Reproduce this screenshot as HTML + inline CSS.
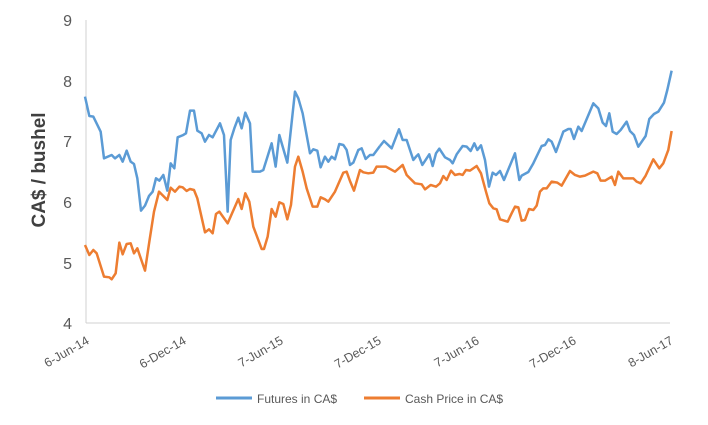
<!DOCTYPE html>
<html><head><style>body{margin:0;background:#fff}svg{display:block}</style></head><body>
<svg width="708" height="425" xmlns="http://www.w3.org/2000/svg" font-family="Liberation Sans, sans-serif">
<rect width="708" height="425" fill="#fff"/>
<line x1="86" y1="20" x2="86" y2="323" stroke="#d0d0d0"/>
<line x1="86" y1="323" x2="670" y2="323" stroke="#d0d0d0"/>
<g font-size="16" fill="#595959" text-anchor="end">
<text x="72" y="26">9</text><text x="72" y="87">8</text><text x="72" y="147">7</text>
<text x="72" y="208">6</text><text x="72" y="269">5</text><text x="72" y="329">4</text>
</g>
<text transform="translate(45,170) rotate(-90)" text-anchor="middle" font-size="19" font-weight="bold" fill="#404040">CA$ / bushel</text>
<g font-size="12.5" fill="#595959" text-anchor="end">
<text transform="translate(90,343) rotate(-30)">6-Jun-14</text>
<text transform="translate(187,343) rotate(-30)">6-Dec-14</text>
<text transform="translate(284,343) rotate(-30)">7-Jun-15</text>
<text transform="translate(382,343) rotate(-30)">7-Dec-15</text>
<text transform="translate(480,343) rotate(-30)">7-Jun-16</text>
<text transform="translate(577,343) rotate(-30)">7-Dec-16</text>
<text transform="translate(674,343) rotate(-30)">8-Jun-17</text>
</g>
<g fill="none" stroke-width="2.5" stroke-linejoin="round">
<g transform="translate(80,60) scale(0.3333)">
<polyline vector-effect="non-scaling-stroke" stroke="#5b9bd5" points="15,110 28,168 40,170 62,215 72,295 95,285 105,295 118,285 128,305 140,272 152,305 162,312 172,355 183,452 195,437 207,408 218,395 228,355 238,362 250,345 262,392 272,310 283,325 293,232 310,225 318,220 330,152 342,152 352,212 365,220 375,245 387,225 398,232 420,190 432,225 443,455 452,240 463,205 475,173 485,205 496,158 510,190 518,335 540,335 550,330 575,250 587,320 598,225 622,308 645,95 655,115 668,160 690,280 700,268 712,272 722,322 735,290 745,305 755,290 765,298 778,252 790,255 800,270 810,315 820,308 835,270 845,265 857,297 870,285 880,285 900,258"/>
<polyline vector-effect="non-scaling-stroke" stroke="#ed7d31" points="15,555 28,585 40,570 50,580 72,650 88,652 95,658 107,640 118,548 128,583 140,552 152,550 162,580 172,565 195,632 208,545 222,455 237,395 262,420 272,383 285,395 298,380 308,382 320,393 330,387 342,390 352,415 375,517 387,508 398,520 408,462 418,455 443,490 475,417 485,447 496,400 508,425 520,500 545,567 552,567 563,530 575,447 587,470 598,427 610,432 622,478 633,435 645,320 655,290 668,335 680,385 698,440 712,440 722,412 735,418 745,425 765,395 790,338 800,335 810,363 822,392 840,330 850,337 865,340 880,338 890,320 900,320"/>
</g>
<g transform="translate(380,60) scale(0.3333)">
<polyline vector-effect="non-scaling-stroke" stroke="#5b9bd5" points="0,258 12,243 35,265 57,208 68,240 80,240 100,300 108,290 115,283 127,315 148,283 158,318 168,280 178,266 195,292 210,300 218,310 230,283 248,258 260,260 272,273 283,250 292,270 303,256 315,300 327,380 338,338 348,345 360,333 372,360 405,280 418,360 425,347 445,336 460,310 485,258 495,255 505,238 515,245 528,276 550,215 565,207 572,207 582,237 595,200 605,213 640,130 655,145 668,188 678,198 688,160 698,215 710,222 722,210 740,185 750,213 762,225 775,260 797,228 808,177 822,162 835,155 852,128 862,90 875,32"/>
<polyline vector-effect="non-scaling-stroke" stroke="#ed7d31" points="0,320 18,320 45,335 68,315 80,345 90,355 105,370 125,373 135,388 152,375 168,380 180,370 190,348 200,360 213,332 225,345 238,342 248,345 258,330 270,332 290,318 303,340 318,395 328,430 340,445 350,448 360,478 383,485 395,460 405,440 415,442 425,482 435,480 447,447 460,450 470,437 480,395 490,385 500,385 515,365 532,368 545,377 570,333 585,345 600,350 615,347 640,335 652,340 662,362 675,362 695,350 705,375 715,335 730,355 760,355 770,365 782,370 797,347 820,298 838,325 850,310 865,270 875,213"/>
</g>
</g>
<line x1="216" y1="398" x2="252" y2="398" stroke="#5b9bd5" stroke-width="3"/>
<text x="257" y="403" font-size="12" fill="#595959">Futures in CA$</text>
<line x1="364" y1="398" x2="400" y2="398" stroke="#ed7d31" stroke-width="3"/>
<text x="405" y="403" font-size="12" fill="#595959">Cash Price in CA$</text>
</svg>
</body></html>
